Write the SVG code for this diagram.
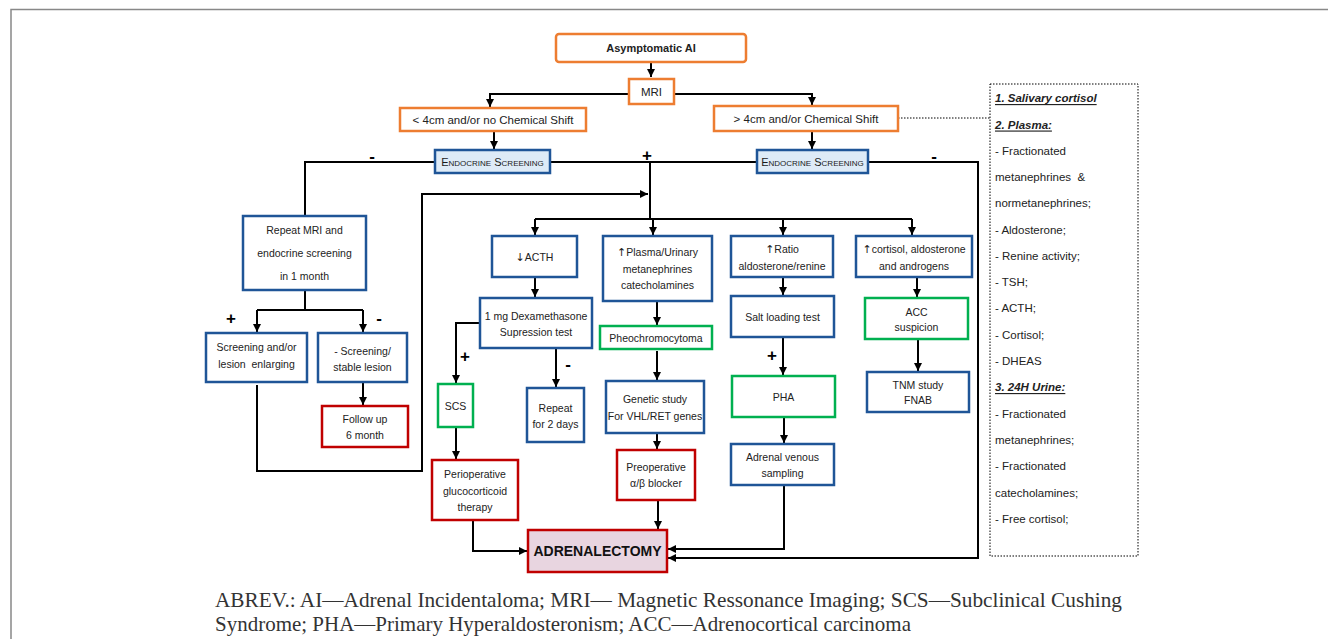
<svg xmlns="http://www.w3.org/2000/svg" width="1328" height="639" viewBox="0 0 1328 639">
<defs>
<marker id="ah" markerUnits="userSpaceOnUse" markerWidth="9" markerHeight="9" refX="8" refY="4.5" orient="auto">
<path d="M0,0.5 L8,4.5 L0,8.5 z" fill="#000"/>
</marker>
<style>
.o{fill:#fff;stroke:#ED7D31;stroke-width:2.5}
.b{fill:#fff;stroke:#1F5597;stroke-width:2.5}
.g{fill:#fff;stroke:#00B050;stroke-width:2.5}
.r{fill:#fff;stroke:#C00000;stroke-width:2.5}
.es{fill:#DEEBF7;stroke:#1F5597;stroke-width:2.5}
.ad{fill:#E8D5E0;stroke:#C00000;stroke-width:2.5}
text{font-family:"Liberation Sans",Arial,sans-serif;fill:#222}
.t{font-size:10.5px;text-anchor:middle;dominant-baseline:central}
.tm{font-size:11.5px;text-anchor:middle;dominant-baseline:central}
.sc{font-size:11px;text-anchor:middle;dominant-baseline:central;font-variant:small-caps;fill:#1a1a1a}
.s{font-size:17px;font-weight:bold;text-anchor:middle;dominant-baseline:central;fill:#000}
.d{font-size:11.5px;dominant-baseline:central}
.dh{font-size:11.5px;font-weight:bold;font-style:italic;text-decoration:underline;dominant-baseline:central}
.ar{font-family:"DejaVu Sans",sans-serif;font-size:11px}
.c{fill:none;stroke:#000;stroke-width:2}
.ca{fill:none;stroke:#000;stroke-width:2;marker-end:url(#ah)}
.fn{font-family:"Liberation Serif","Times New Roman",serif;font-size:21px;fill:#333}
</style>
</defs>
<rect width="1328" height="639" fill="#fff"/>
<path d="M11,639 V9.5 H1328" fill="none" stroke="#888" stroke-width="1.5"/>

<g id="connectors">
<path class="ca" d="M651,62 V77"/>
<path class="ca" d="M629,94 H490 V107"/>
<path class="ca" d="M674,94 H812 V105"/>
<path class="ca" d="M494,132 V149"/>
<path class="ca" d="M812,132 V149"/>
<path d="M898,118 H990" fill="none" stroke="#000" stroke-width="1" stroke-dasharray="1.5,1.5"/>
<path class="c" d="M435,162 H305 V216"/>
<path class="c" d="M550,162 H757"/>
<path class="c" d="M650,162 V219"/>
<path class="c" d="M535,219 H912"/>
<path class="ca" d="M535,219 V235"/>
<path class="ca" d="M653,219 V235"/>
<path class="ca" d="M783,219 V235"/>
<path class="ca" d="M912,219 V235"/>
<path class="ca" d="M868,162 H978 V558 H668"/>
<path class="ca" d="M257,385 V471 H422 V194 H648"/>
<path class="c" d="M305,290 V310 M257,310 H363"/>
<path class="ca" d="M257,310 V332"/>
<path class="ca" d="M363,310 V332"/>
<path class="ca" d="M363,382 V405"/>
<path class="ca" d="M535,277 V297"/>
<path class="ca" d="M480,323 H456 V383"/>
<path class="ca" d="M556,348 V387"/>
<path class="ca" d="M456,427 V459"/>
<path class="ca" d="M473,520 V551 H527"/>
<path class="ca" d="M657,301 V325"/>
<path class="ca" d="M657,351 V380"/>
<path class="ca" d="M657,433 V449"/>
<path class="ca" d="M658,501 V529"/>
<path class="ca" d="M783,277 V295"/>
<path class="ca" d="M783,337 V375"/>
<path class="ca" d="M784,417 V443"/>
<path class="ca" d="M784,485 V549 H668"/>
<path class="ca" d="M917,277 V297"/>
<path class="ca" d="M918,340 V371"/>
</g>

<g id="signs">
<text class="s" x="372" y="156">-</text>
<text class="s" x="647" y="155">+</text>
<text class="s" x="934" y="156">-</text>
<text class="s" x="231" y="318">+</text>
<text class="s" x="379" y="318">-</text>
<text class="s" x="465" y="356">+</text>
<text class="s" x="568" y="364">-</text>
<text class="s" x="772" y="355">+</text>
</g>

<g id="asymptomatic"><rect class="o" x="556" y="34" width="190" height="28" rx="3"/><text class="t" x="651" y="48" style="font-weight:bold;font-size:11px">Asymptomatic AI</text></g>
<g id="mri"><rect class="o" x="629" y="79" width="45" height="25"/><text class="tm" x="651.5" y="91.5">MRI</text></g>
<g id="small"><rect class="o" x="400" y="108" width="186" height="23"/><text class="tm" x="493" y="120">&lt; 4cm and/or no Chemical Shift</text></g>
<g id="large"><rect class="o" x="714" y="106" width="184" height="25"/><text class="tm" x="806" y="119">&gt; 4cm and/or Chemical Shift</text></g>
<g id="es-left"><rect class="es" x="435" y="150" width="115" height="23"/><text class="sc" x="492.5" y="162">Endocrine Screening</text></g>
<g id="es-right"><rect class="es" x="757" y="150" width="111" height="23"/><text class="sc" x="812.5" y="162">Endocrine Screening</text></g>

<g id="repeat-mri"><rect class="b" x="243" y="216" width="123" height="74"/><text class="t" x="304.5" y="230">Repeat MRI and</text><text class="t" x="304.5" y="253">endocrine screening</text><text class="t" x="304.5" y="276">in 1 month</text></g>
<g id="screening-pos"><rect class="b" x="206" y="333" width="101" height="49"/><text class="t" x="256.5" y="347">Screening and/or</text><text class="t" x="256.5" y="364" xml:space="preserve">lesion  enlarging</text></g>
<g id="screening-neg"><rect class="b" x="318" y="333" width="89" height="49"/><text class="t" x="362.5" y="350.5">- Screening/</text><text class="t" x="362.5" y="366.5">stable lesion</text></g>
<g id="follow-up"><rect class="r" x="322" y="406" width="86" height="41"/><text class="t" x="365" y="419">Follow up</text><text class="t" x="365" y="435">6 month</text></g>

<g id="acth"><rect class="b" x="492" y="236" width="85" height="41"/><text class="t" x="534.5" y="256.5"><tspan class="ar">↓</tspan>ACTH</text></g>
<g id="plasma"><rect class="b" x="603" y="236" width="109" height="65"/><text class="t" x="657.5" y="252"><tspan class="ar">↑</tspan>Plasma/Urinary</text><text class="t" x="657.5" y="269">metanephrines</text><text class="t" x="657.5" y="285">catecholamines</text></g>
<g id="ratio"><rect class="b" x="731" y="236" width="102" height="41"/><text class="t" x="782" y="248.5"><tspan class="ar">↑</tspan>Ratio</text><text class="t" x="782" y="265.5">aldosterone/renine</text></g>
<g id="cortisol"><rect class="b" x="856" y="236" width="116" height="41"/><text class="t" x="914" y="248.5"><tspan class="ar">↑</tspan>cortisol, aldosterone</text><text class="t" x="914" y="265.5">and androgens</text></g>

<g id="dexa"><rect class="b" x="480" y="298" width="112" height="50"/><text class="t" x="536" y="315.5">1 mg Dexamethasone</text><text class="t" x="536" y="331.5">Supression test</text></g>
<g id="pheo"><rect class="g" x="600" y="326" width="112" height="23"/><text class="t" x="656" y="338">Pheochromocytoma</text></g>
<g id="salt"><rect class="b" x="731" y="296" width="103" height="41"/><text class="t" x="782.5" y="317">Salt loading test</text></g>
<g id="acc"><rect class="g" x="865" y="298" width="103" height="41"/><text class="t" x="916.5" y="311.5">ACC</text><text class="t" x="916.5" y="327">suspicion</text></g>

<g id="scs"><rect class="g" x="438" y="384" width="35" height="43"/><text class="t" x="455.5" y="405.5">SCS</text></g>
<g id="repeat-2"><rect class="b" x="527" y="388" width="57" height="54"/><text class="t" x="555.5" y="407.5">Repeat</text><text class="t" x="555.5" y="424">for 2 days</text></g>
<g id="genetic"><rect class="b" x="606" y="381" width="98" height="52"/><text class="t" x="655" y="399">Genetic study</text><text class="t" x="655" y="415.5">For VHL/RET genes</text></g>
<g id="pha"><rect class="g" x="732" y="376" width="103" height="41"/><text class="t" x="783.5" y="396.5">PHA</text></g>
<g id="tnm"><rect class="b" x="867" y="372" width="102" height="40"/><text class="t" x="918" y="385">TNM study</text><text class="t" x="918" y="400">FNAB</text></g>

<g id="periop"><rect class="r" x="432" y="460" width="86" height="60"/><text class="t" x="475" y="474">Perioperative</text><text class="t" x="475" y="490.5">glucocorticoid</text><text class="t" x="475" y="506.5">therapy</text></g>
<g id="preop"><rect class="r" x="617" y="450" width="78" height="50"/><text class="t" x="656" y="467">Preoperative</text><text class="t" x="656" y="483">α/β blocker</text></g>
<g id="adrenal-venous"><rect class="b" x="731" y="444" width="103" height="41"/><text class="t" x="782.5" y="456.5">Adrenal venous</text><text class="t" x="782.5" y="473">sampling</text></g>
<g id="adrenalectomy"><rect class="ad" x="528" y="530" width="139" height="42"/><text class="t" x="597.5" y="551" style="font-weight:bold;font-size:14px;fill:#111">ADRENALECTOMY</text></g>

<g id="screening-list">
<rect x="990" y="84" width="148" height="472" fill="none" stroke="#000" stroke-width="1" stroke-dasharray="1.5,1.5"/>
<text class="dh" x="995" y="98">1. Salivary cortisol</text>
<text class="dh" x="995" y="124.5">2. Plasma:</text>
<text class="d" x="995" y="151">- Fractionated</text>
<text class="d" x="995" y="177" xml:space="preserve">metanephrines  &amp;</text>
<text class="d" x="995" y="203">normetanephrines;</text>
<text class="d" x="995" y="229.5">- Aldosterone;</text>
<text class="d" x="995" y="256">- Renine activity;</text>
<text class="d" x="995" y="282">- TSH;</text>
<text class="d" x="995" y="308">- ACTH;</text>
<text class="d" x="995" y="334.5">- Cortisol;</text>
<text class="d" x="995" y="360.5">- DHEAS</text>
<text class="dh" x="995" y="387">3. 24H Urine:</text>
<text class="d" x="995" y="413.5">- Fractionated</text>
<text class="d" x="995" y="440">metanephrines;</text>
<text class="d" x="995" y="466">- Fractionated</text>
<text class="d" x="995" y="492.5">catecholamines;</text>
<text class="d" x="995" y="519">- Free cortisol;</text>
</g>

<g id="footnote">
<text class="fn" x="215" y="607" textLength="907" lengthAdjust="spacingAndGlyphs">ABREV.: AI—Adrenal Incidentaloma; MRI— Magnetic Ressonance Imaging; SCS—Subclinical Cushing</text>
<text class="fn" x="215" y="631" textLength="696" lengthAdjust="spacingAndGlyphs">Syndrome; PHA—Primary Hyperaldosteronism; ACC—Adrenocortical carcinoma</text>
</g>
</svg>
